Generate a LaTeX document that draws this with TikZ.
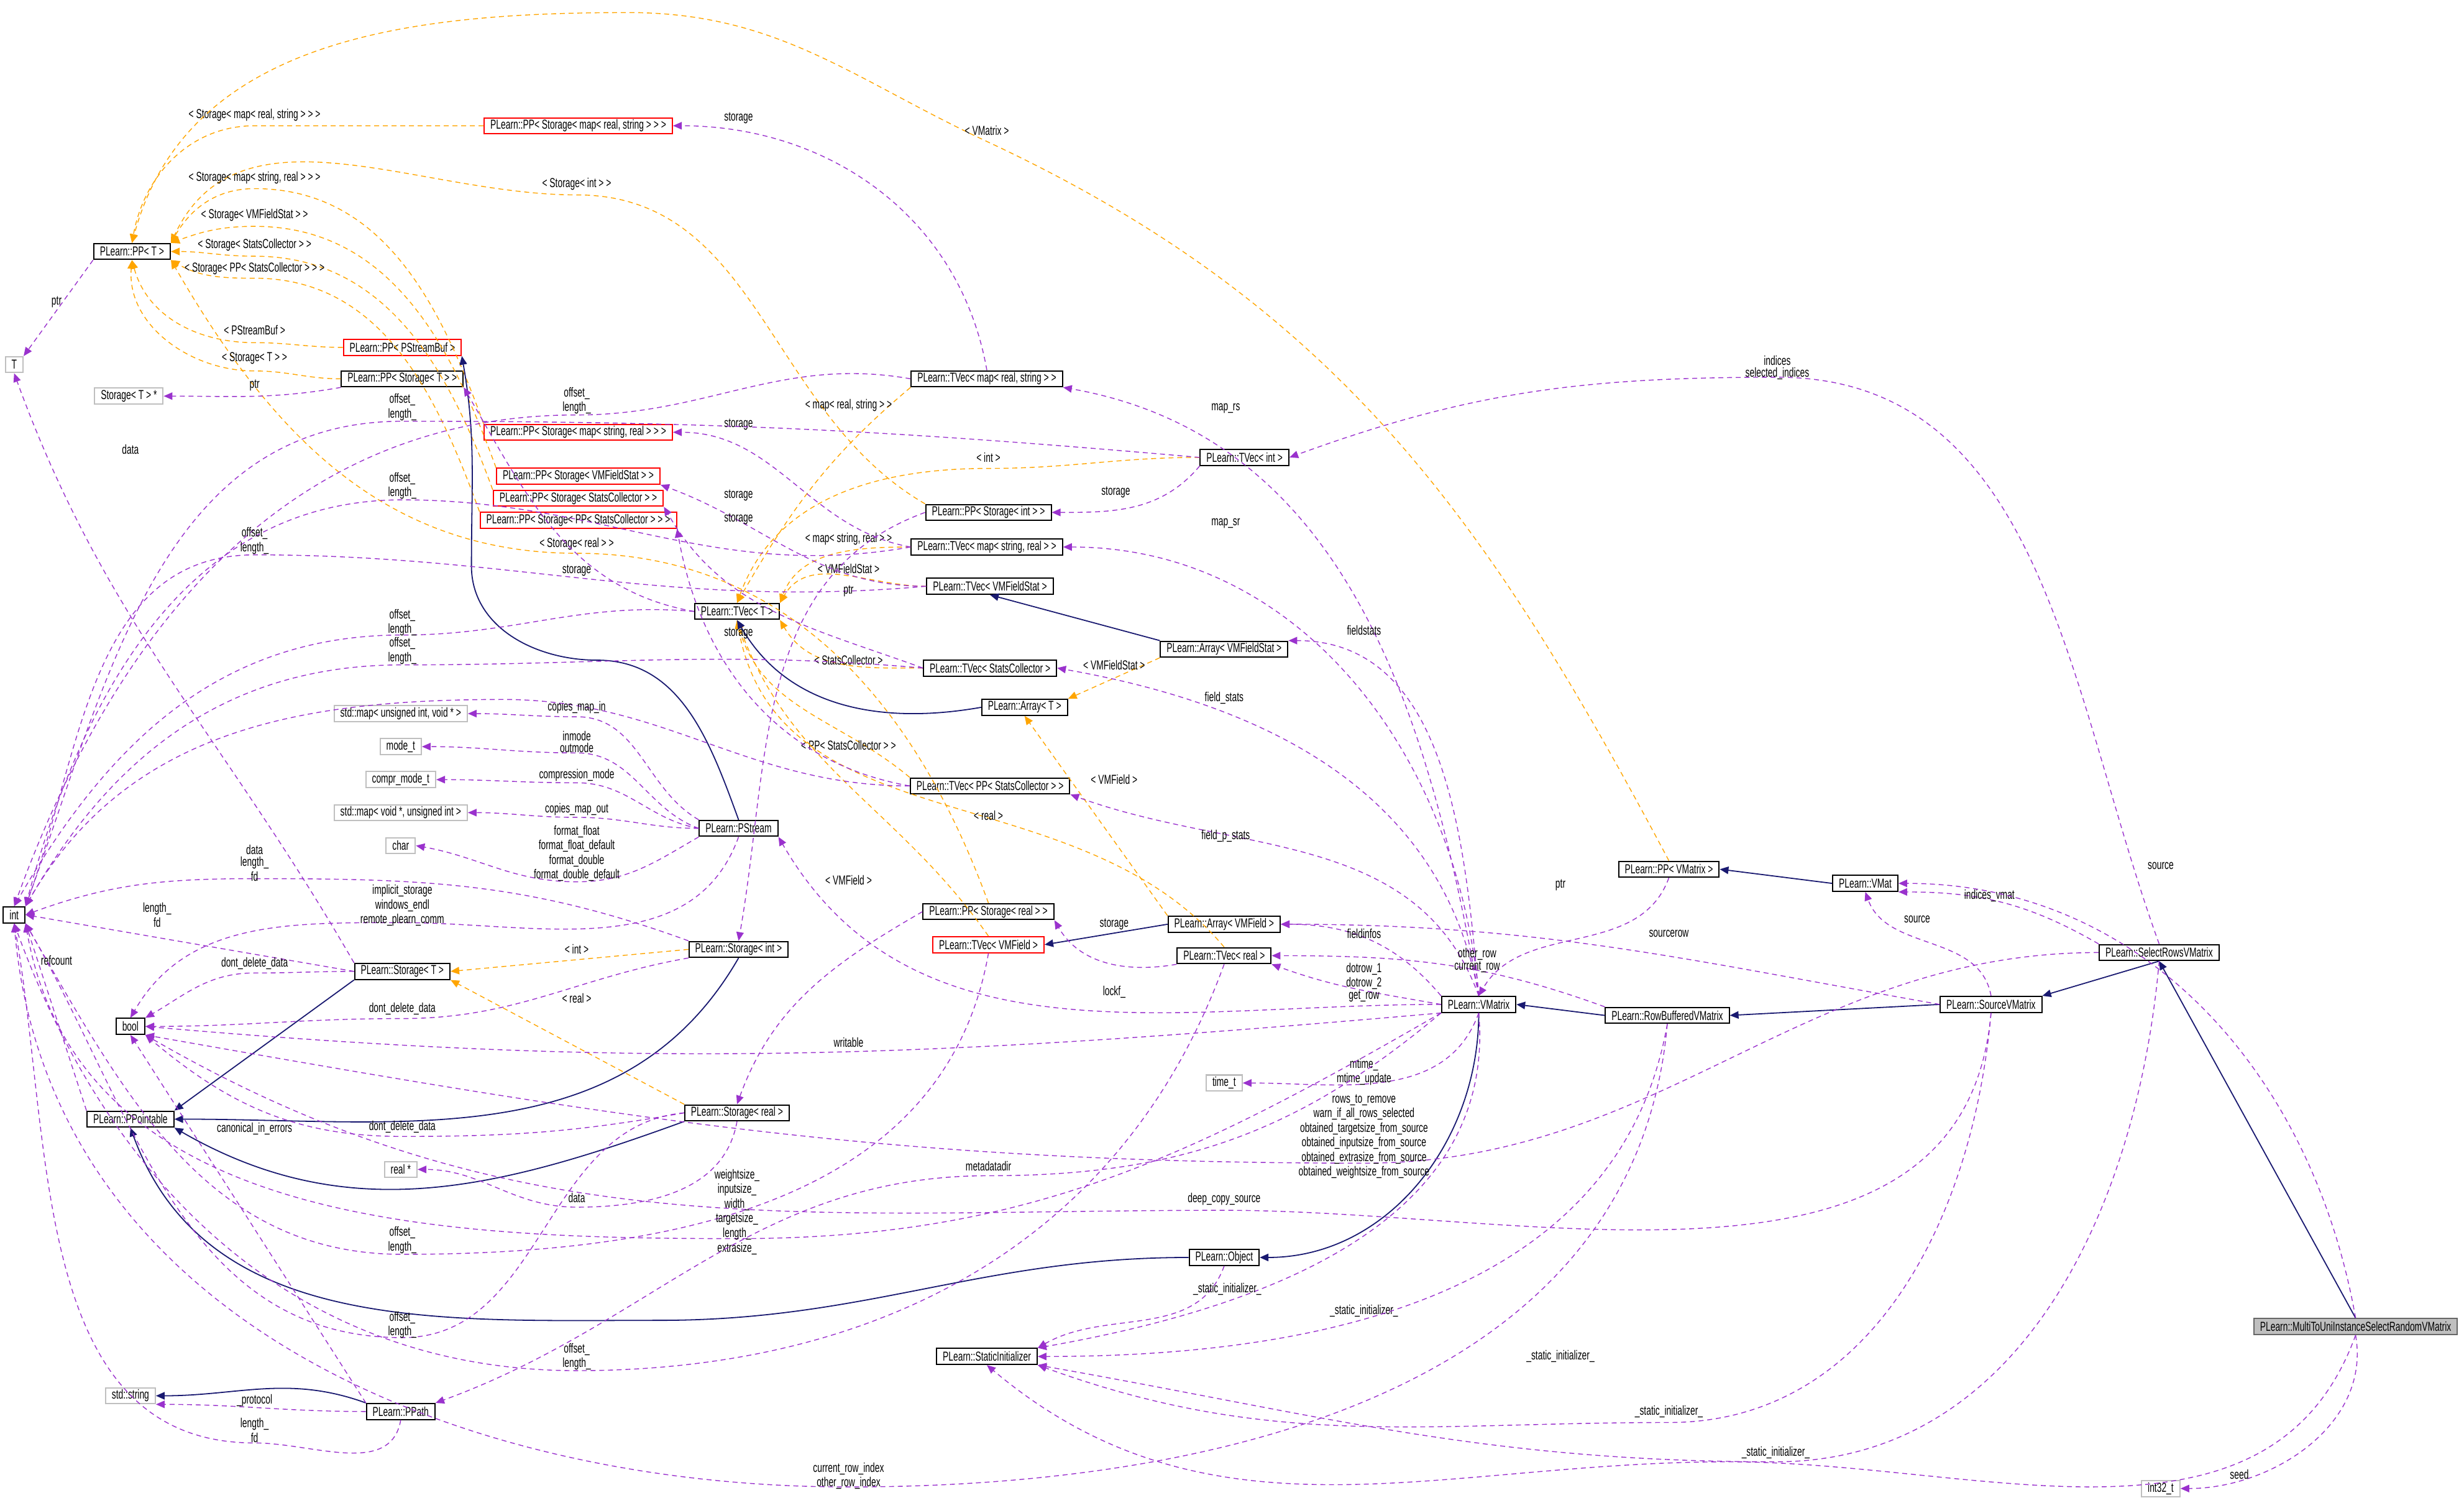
\documentclass[tikz,border=0pt]{standalone}
\usepackage{fontspec}
\setmainfont{Liberation Sans}[FakeStretch=0.66]
\usetikzlibrary{arrows.meta}
\definecolor{usec}{HTML}{9A32CD}
\definecolor{tplc}{HTML}{FFA500}
\definecolor{inhc}{HTML}{191970}
\tikzset{
 box/.style={draw=black,line width=0.5pt,inner xsep=2.5pt,inner ysep=0.5pt,minimum height=6.4pt,font=\fontsize{5.25}{6}\selectfont,text=black},
 rbox/.style={box,draw=red},
 gbox/.style={box,draw=black!25},
 mbox/.style={box,draw=black!60,fill=black!25},
 lab/.style={font=\fontsize{5.25}{4.8}\selectfont,align=center,inner sep=0.5pt,text=black},
 usel/.style={draw=usec,dashed,dash pattern=on 2pt off 1.5pt,line width=0.35pt,-{Triangle[length=3.5pt,width=3pt]},color=usec},
 tpl/.style={draw=tplc,dashed,dash pattern=on 2pt off 1.5pt,line width=0.35pt,-{Triangle[length=3.5pt,width=3pt]},color=tplc},
 inh/.style={draw=inhc,line width=0.45pt,-{Triangle[length=3.5pt,width=3pt]},color=inhc},
}
\begin{document}
\begin{tikzpicture}[x=0.632pt,y=-0.632pt]
\useasboundingbox (0,0) rectangle (1568,956);
% nodes
\node[box] (PPT) at (84,160) {PLearn::PP< T >};
\node[gbox] (T) at (9,232) {T};
\node[gbox] (STs) at (82,252) {Storage< T > *};
\node[rbox] (PPSB) at (256,221) {PLearn::PP< PStreamBuf >};
\node[box] (PPST) at (256,241) {PLearn::PP< Storage< T > >};
\node[rbox] (PPSMRS) at (368,80) {PLearn::PP< Storage< map< real, string > > >};
\node[rbox] (PPSMSR) at (368,275) {PLearn::PP< Storage< map< string, real > > >};
\node[rbox] (PPSVF) at (368,303) {PLearn::PP< Storage< VMFieldStat > >};
\node[rbox] (PPSSC) at (368,317) {PLearn::PP< Storage< StatsCollector > >};
\node[rbox] (PPSPSC) at (368,331) {PLearn::PP< Storage< PP< StatsCollector > > >};
\node[box] (TVmrs) at (628,241) {PLearn::TVec< map< real, string > >};
\node[box] (TVint) at (792,291) {PLearn::TVec< int >};
\node[box] (PPSint) at (629,326) {PLearn::PP< Storage< int > >};
\node[box] (TVmsr) at (628,348) {PLearn::TVec< map< string, real > >};
\node[box] (TVVF) at (630,373) {PLearn::TVec< VMFieldStat >};
\node[box] (TVT) at (469,389) {PLearn::TVec< T >};
\node[box] (AVF) at (779,413) {PLearn::Array< VMFieldStat >};
\node[box] (TVSC) at (630,425) {PLearn::TVec< StatsCollector >};
\node[box] (AT) at (652,450) {PLearn::Array< T >};
\node[gbox] (mapuv) at (255,454) {std::map< unsigned int, void * >};
\node[gbox] (modet) at (255,475) {mode\_t};
\node[gbox] (cmode) at (255,496) {compr\_mode\_t};
\node[box] (TVPSC) at (630,500) {PLearn::TVec< PP< StatsCollector > >};
\node[gbox] (mapvu) at (255,517) {std::map< void *, unsigned int >};
\node[gbox] (char) at (255,538) {char};
\node[box] (PS) at (470,527) {PLearn::PStream};
\node[box] (PPVM) at (1062,553) {PLearn::PP< VMatrix >};
\node[box] (VMat) at (1187,562) {PLearn::VMat};
\node[box] (PPSreal) at (629,580) {PLearn::PP< Storage< real > >};
\node[box] (AVMF) at (779,588) {PLearn::Array< VMField >};
\node[rbox] (TVVMF) at (629,601) {PLearn::TVec< VMField >};
\node[box] (TVreal) at (779,608) {PLearn::TVec< real >};
\node[box] (int) at (9,582) {int};
\node[box] (ST) at (256,618) {PLearn::Storage< T >};
\node[box] (Sint) at (470,604) {PLearn::Storage< int >};
\node[box] (bool) at (83,653) {bool};
\node[box] (SRV) at (1374,606) {PLearn::SelectRowsVMatrix};
\node[box] (SV) at (1267,639) {PLearn::SourceVMatrix};
\node[box] (VM) at (941,639) {PLearn::VMatrix};
\node[box] (RB) at (1061,646) {PLearn::RowBufferedVMatrix};
\node[gbox] (timet) at (779,689) {time\_t};
\node[box] (PPo) at (83,712) {PLearn::PPointable};
\node[box] (Sreal) at (469,708) {PLearn::Storage< real >};
\node[gbox] (realp) at (255,744) {real *};
\node[box] (Obj) at (779,800) {PLearn::Object};
\node[box] (SI) at (628,863) {PLearn::StaticInitializer};
\node[gbox] (str) at (83,888) {std::string};
\node[box] (PPath) at (255,898) {PLearn::PPath};
\node[mbox] (MT) at (1499,844) {PLearn::MultiToUniInstanceSelectRandomVMatrix};
\node[gbox] (i32) at (1375,947) {int32\_t};
% template edges
\draw[tpl] (PPSMRS.west) to[out=180,in=0] (162,80) node[lab,at={(162,73)}]{< Storage< map< real, string > > >} to[out=180,in=80] (PPT.north);
\draw[tpl] (PPVM.north) to[out=118,in=-25] (628,90) node[lab,at={(628,83)}]{< VMatrix >} to[out=155,in=0] (400,8) to[out=180,in=75] (PPT.north);
\draw[tpl] (PPSint.north west) to[out=150,in=0] (367,124) node[lab,at={(367,117)}]{< Storage< int > >} to[out=180,in=65] (PPT.north east);
\draw[tpl] (PPSMSR.north west) to[out=110,in=0] (162,120) node[lab,at={(162,113)}]{< Storage< map< string, real > > >} to[out=180,in=60] (PPT.north east);
\draw[tpl] (PPSVF.north west) to[out=110,in=0] (162,144) node[lab,at={(162,137)}]{< Storage< VMFieldStat > >} to[out=180,in=20] (PPT.north east);
\draw[tpl] (PPSSC.north west) to[out=110,in=0] (162,163) node[lab,at={(162,156)}]{< Storage< StatsCollector > >} to[out=180,in=0] (PPT.east);
\draw[tpl] (PPSPSC.north west) to[out=110,in=0] (162,177) node[lab,at={(162,171)}]{< Storage< PP< StatsCollector > > >} to[out=180,in=-30] (PPT.south east);
\draw[tpl] (PPSreal.north) to[out=110,in=0] (367,352) node[lab,at={(367,346)}]{< Storage< real > >} to[out=180,in=-60] (PPT.south east);
\draw[tpl] (PPSB.west) to[out=180,in=0] (162,218) node[lab,at={(162,210)}]{< PStreamBuf >} to[out=180,in=-75] (PPT.south);
\draw[tpl] (PPST.west) to[out=180,in=0] (162,236) node[lab,at={(162,228)}]{< Storage< T > >} to[out=180,in=-95] (PPT.south);
\draw[tpl] (TVmrs.south west) to[out=220,in=60] (TVT.north) node[lab,at={(540,258)}]{< map< real, string > >};
\draw[tpl] (TVint.west) to[out=180,in=0] (629,298) node[lab,at={(629,291)}]{< int >} to[out=180,in=70] (TVT.north);
\draw[tpl] (TVmsr.west) to[out=180,in=70] (TVT.north east) node[lab,at={(540,343)}]{< map< string, real > >};
\draw[tpl] (TVVF.west) to[out=180,in=60] (TVT.north east) node[lab,at={(540,362)}]{< VMFieldStat >};
\draw[tpl] (TVSC.west) to[out=180,in=-60] (TVT.south east) node[lab,at={(540,420)}]{< StatsCollector >};
\draw[tpl] (TVPSC.north west) to[out=140,in=-75] (TVT.south) node[lab,at={(540,474)}]{< PP< StatsCollector > >};
\draw[tpl] (TVVMF.north) to[out=125,in=-70] (TVT.south) node[lab,at={(540,560)}]{< VMField >};
\draw[tpl] (TVreal.north) to[out=130,in=-80] (TVT.south) node[lab,at={(629,519)}]{< real >};
\draw[tpl] (AVF.south west) -- (AT.north east) node[lab,at={(709,423)}]{< VMFieldStat >};
\draw[tpl] (AVMF.north west) -- (AT.south) node[lab,at={(709,496)}]{< VMField >};
\draw[tpl] (Sint.west) -- (ST.east) node[lab,at={(367,604)}]{< int >};
\draw[tpl] (Sreal.north west) -- (ST.south east) node[lab,at={(367,635)}]{< real >};
% inheritance
\draw[inh] (PS.north) to[out=110,in=0] (380,420) to[out=180,in=-90] (300,360) to[out=90,in=-80] (PPSB.south east);
\draw[inh] (AT.west) to[out=190,in=-60] (TVT.south);
\draw[inh] (AVF.north west) -- (TVVF.south);
\draw[inh] (AVMF.west) -- (TVVMF.east);
\draw[inh] (ST.south west) -- (PPo.north east);
\draw[inh] (Sint.south) to[out=-120,in=0] (PPo.east);
\draw[inh] (Sreal.south west) to[out=200,in=-30] (PPo.south east);
\draw[inh] (Obj.west) to[out=180,in=0] (420,840) to[out=180,in=-70] (PPo.south);
\draw[inh] (PPath.north west) to[out=160,in=0] (str.east);
\draw[inh] (VMat.west) -- (PPVM.east);
\draw[inh] (VM.south) to[out=-90,in=0] (Obj.east);
\draw[inh] (RB.west) -- (VM.east);
\draw[inh] (SV.west) -- (RB.east);
\draw[inh] (SRV.south) -- (SV.north east);
\draw[inh] (MT.north) -- (SRV.south);
% usage
\draw[usel] (PPT.south west) -- (T.north east) node[lab,at={(36,192)}]{ptr};
\draw[usel] (PPST.south west) to[out=190,in=0] (STs.east) node[lab,at={(162,245)}]{ptr};
\draw[usel] (TVT.west) to[out=170,in=-60] (PPST.south east) node[lab,at={(470,403)}]{storage};
\draw[usel] (TVT.west) to[out=175,in=0] (256,404) node[lab,at={(256,396)}]{offset\_\\length\_} to[out=180,in=60] (int.north);
\draw[usel] (TVmrs.west) to[out=170,in=0] (367,264) node[lab,at={(367,255)}]{offset\_\\length\_} to[out=180,in=70] (int.north);
\draw[usel] (TVmrs.north) to[out=100,in=0] (PPSMRS.east) node[lab,at={(470,75)}]{storage};
\draw[usel] (TVmsr.west) to[out=170,in=0] (PPSMSR.east) node[lab,at={(470,270)}]{storage};
\draw[usel] (TVint.west) to[out=175,in=0] (256,268) node[lab,at={(256,259)}]{offset\_\\length\_} to[out=180,in=70] (int.north east);
\draw[usel] (TVint.south west) to[out=230,in=0] (PPSint.east) node[lab,at={(710,313)}]{storage};
\draw[usel] (TVVF.west) to[out=180,in=-20] (PPSVF.south east) node[lab,at={(470,315)}]{storage};
\draw[usel] (TVSC.west) to[out=160,in=-60] (PPSSC.south east) node[lab,at={(470,330)}]{storage};
\draw[usel] (TVPSC.west) to[out=170,in=-80] (PPSPSC.south east) node[lab,at={(367,363)}]{storage};
\draw[usel] (TVmsr.west) to[out=190,in=0] (256,318) node[lab,at={(256,309)}]{offset\_\\length\_} to[out=180,in=75] (int.north east);
\draw[usel] (TVVF.west) to[out=185,in=0] (162,353) node[lab,at={(162,344)}]{offset\_\\length\_} to[out=180,in=70] (int.north east);
\draw[usel] (TVSC.west) to[out=175,in=0] (256,423) node[lab,at={(256,414)}]{offset\_\\length\_} to[out=180,in=60] (int.north east);
\draw[usel] (TVPSC.west) to[out=180,in=0] (320,445) to[out=180,in=60] (int.north east);
\draw[usel] (TVreal.south west) to[out=190,in=-60] (PPSreal.south east) node[lab,at={(709,588)}]{storage};
\draw[usel] (TVVMF.south) to[out=-100,in=0] (256,798) node[lab,at={(256,789)}]{offset\_\\length\_} to[out=180,in=-60] (int.south east);
\draw[usel] (TVreal.south) to[out=-110,in=0] (367,872) node[lab,at={(367,863)}]{offset\_\\length\_} to[out=180,in=-70] (int.south);
\draw[usel] (PPSint.west) to[out=200,in=80] (Sint.north) node[lab,at={(540,376)}]{ptr};
\draw[usel] (PPSreal.west) to[out=210,in=70] (Sreal.north);
\draw[usel] (ST.north west) to[out=120,in=-70] (T.south) node[lab,at={(83,286)}]{data};
\draw[usel] (ST.west) -- (int.east) node[lab,at={(100,582)}]{length\_\\fd};
\draw[usel] (ST.west) to[out=180,in=0] (162,619) node[lab,at={(162,613)}]{dont\_delete\_data} to[out=180,in=30] (bool.north east);
\draw[usel] (Sint.north west) to[out=160,in=0] (162,559) node[lab,at={(162,549)}]{data\\length\_\\fd} to[out=180,in=20] (int.east);
\draw[usel] (Sint.south west) to[out=190,in=0] (256,648) node[lab,at={(256,642)}]{dont\_delete\_data} to[out=180,in=0] (bool.east);
\draw[usel] (Sreal.west) to[out=190,in=0] (256,723) node[lab,at={(256,717)}]{dont\_delete\_data} to[out=180,in=-40] (bool.south east);
\draw[usel] (Sreal.south) to[out=-100,in=0] (367,768) node[lab,at={(367,762)}]{data} to[out=180,in=0] (realp.east);
\draw[usel] (Sreal.west) to[out=185,in=0] (256,851) node[lab,at={(256,843)}]{offset\_\\length\_} to[out=180,in=-60] (int.south east);
\draw[usel] (PS.north west) to[out=150,in=0] (367,456) node[lab,at={(367,450)}]{copies\_map\_in} to[out=180,in=0] (mapuv.east);
\draw[usel] (PS.west) to[out=160,in=0] (367,479) node[lab,at={(367,472)}]{inmode\\outmode} to[out=180,in=0] (modet.east);
\draw[usel] (PS.west) to[out=170,in=0] (367,498) node[lab,at={(367,493)}]{compression\_mode} to[out=180,in=0] (cmode.east);
\draw[usel] (PS.west) to[out=180,in=0] (367,520) node[lab,at={(367,515)}]{copies\_map\_out} to[out=180,in=0] (mapvu.east);
\draw[usel] (PS.south west) to[out=210,in=0] (367,561) node[lab,at={(367,543)}]{format\_float\\format\_float\_default\\format\_double\\format\_double\_default} to[out=180,in=-10] (char.east);
\draw[usel] (PS.south) to[out=-110,in=0] (256,587) node[lab,at={(256,576)}]{implicit\_storage\\windows\_endl\\remote\_plearn\_comm} to[out=180,in=60] (bool.north);
\draw[usel] (PPo.north west) -- (int.south east) node[lab,at={(36,611)}]{refcount};
\draw[usel] (PPath.north west) -- (bool.south) node[lab,at={(162,718)}]{canonical\_in\_errors};
\draw[usel] (PPath.west) to[out=180,in=0] (str.south east) node[lab,at={(162,891)}]{\_protocol};
\draw[usel] (PPath.south) to[out=-100,in=0] (162,918) node[lab,at={(162,910)}]{length\_\\fd} to[out=180,in=-80] (int.south);
\draw[usel] (PPVM.south) to[out=-110,in=60] (VM.north) node[lab,at={(993,563)}]{ptr};
\draw[usel] (VM.north) to[out=100,in=-10] (TVmrs.south east) node[lab,at={(780,260)}]{map\_rs};
\draw[usel] (VM.north) to[out=95,in=0] (TVmsr.east) node[lab,at={(780,333)}]{map\_sr};
\draw[usel] (VM.north) to[out=95,in=0] (AVF.north east) node[lab,at={(868,401)}]{fieldstats};
\draw[usel] (VM.north) to[out=100,in=-10] (TVSC.east) node[lab,at={(779,444)}]{field\_stats};
\draw[usel] (VM.north) to[out=110,in=-20] (TVPSC.south east) node[lab,at={(780,532)}]{field\_p\_stats};
\draw[usel] (VM.north west) to[out=130,in=0] (AVMF.east) node[lab,at={(868,594)}]{fieldinfos};
\draw[usel] (VM.west) to[out=170,in=-20] (TVreal.south east) node[lab,at={(868,625)}]{dotrow\_1\\dotrow\_2\\get\_row};
\draw[usel] (VM.west) to[out=180,in=-60] (PS.south east) node[lab,at={(709,631)}]{lockf\_};
\draw[usel] (VM.south west) to[out=185,in=-5] (bool.east) node[lab,at={(540,663)}]{writable};
\draw[usel] (VM.south) to[out=-110,in=0] (timet.east) node[lab,at={(868,682)}]{mtime\_\\mtime\_update};
\draw[usel] (VM.south west) to[out=210,in=0] (469,788) node[lab,at={(469,771)}]{weightsize\_\\inputsize\_\\width\_\\targetsize\_\\length\_\\extrasize\_} to[out=180,in=-80] (int.south east);
\draw[usel] (VM.south west) to[out=220,in=0] (629,748) node[lab,at={(629,742)}]{metadatadir} to[out=180,in=20] (PPath.north east);
\draw[usel] (VM.south) to[out=-85,in=10] (SI.north east) node[lab,at={(868,834)}]{\_static\_initializer\_};
\draw[usel] (Obj.south) to[out=-110,in=30] (SI.north east) node[lab,at={(781,820)}]{\_static\_initializer\_};
\draw[usel] (RB.north west) to[out=160,in=0] (TVreal.east) node[lab,at={(940,611)}]{other\_row\\current\_row};
\draw[usel] (RB.south) to[out=-100,in=0] (SI.east) node[lab,at={(993,863)}]{\_static\_initializer\_};
\draw[usel] (RB.south) to[out=-95,in=0] (540,946) node[lab,at={(540,939)}]{current\_row\_index\\other\_row\_index} to[out=180,in=-85] (int.south);
\draw[usel] (SV.north) to[out=100,in=-70] (VMat.south) node[lab,at={(1220,585)}]{source};
\draw[usel] (SV.west) to[out=170,in=0] (AVMF.east) node[lab,at={(1062,594)}]{sourcerow};
\draw[usel] (SV.south) to[out=-95,in=0] (1062,905) node[lab,at={(1062,898)}]{\_static\_initializer\_} to[out=180,in=-20] (SI.south east);
\draw[usel] (SV.south) to[out=-95,in=0] (779,770) node[lab,at={(779,763)}]{deep\_copy\_source} to[out=180,in=-30] (bool.south east);
\draw[usel] (SRV.north) to[out=110,in=0] (1131,240) node[lab,at={(1131,234)}]{indices\\selected\_indices} to[out=180,in=20] (TVint.east);
\draw[usel] (SRV.north west) to[out=150,in=0] (VMat.south east) node[lab,at={(1266,570)}]{indices\_vmat};
\draw[usel] (SRV.south) to[out=-95,in=0] (1130,930) node[lab,at={(1130,924)}]{\_static\_initializer\_} to[out=180,in=-10] (SI.south east);
\draw[usel] (SRV.west) to[out=180,in=0] (868,740) node[lab,at={(868,723)}]{rows\_to\_remove\\warn\_if\_all\_rows\_selected\\obtained\_targetsize\_from\_source\\obtained\_inputsize\_from\_source\\obtained\_extrasize\_from\_source\\obtained\_weightsize\_from\_source} to[out=180,in=-10] (bool.south east);
\draw[usel] (MT.north) to[out=100,in=0] (VMat.east) node[lab,at={(1375,551)}]{source};
\draw[usel] (MT.south) to[out=-110,in=0] (1100,930) to[out=180,in=-40] (SI.south);
\draw[usel] (MT.south) to[out=-80,in=0] (i32.east) node[lab,at={(1425,938)}]{seed};
\end{tikzpicture}
\end{document}
